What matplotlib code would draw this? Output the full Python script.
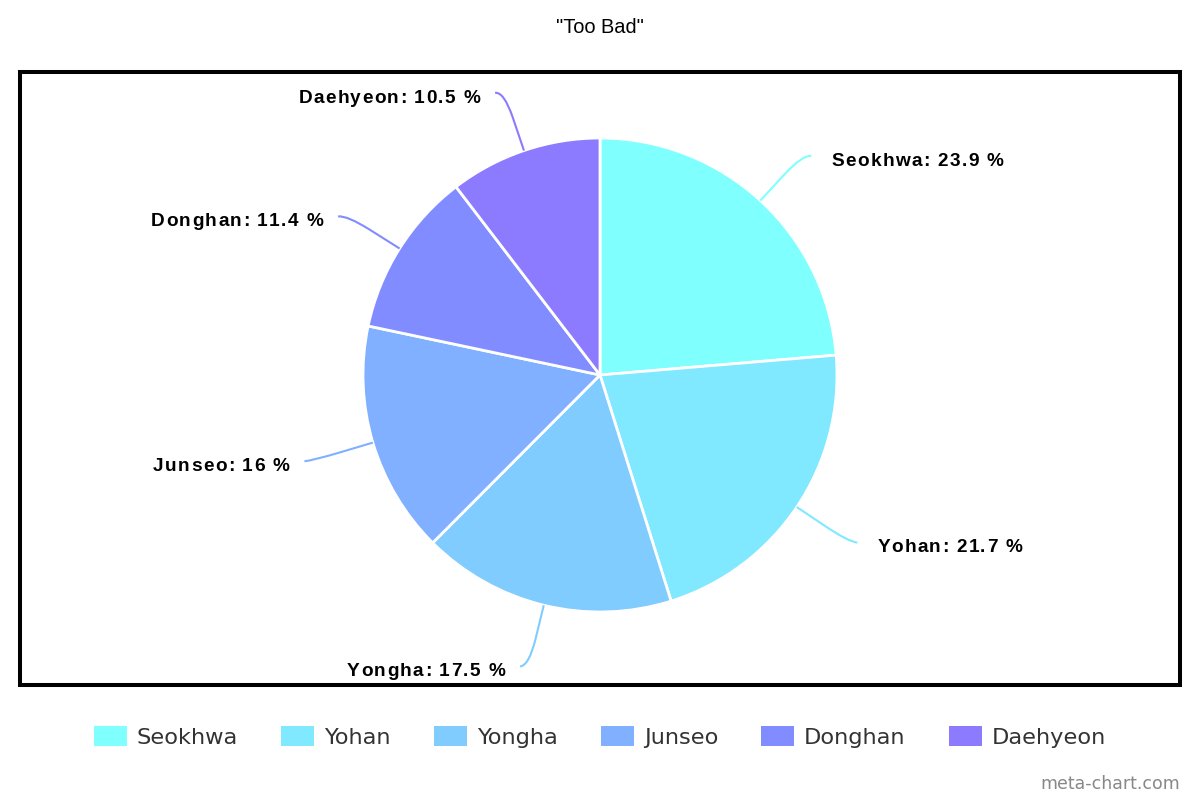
import numpy as np
import matplotlib
matplotlib.use("Agg")
import matplotlib.pyplot as plt
from matplotlib.patches import Rectangle, Patch, PathPatch
from matplotlib.path import Path
from matplotlib.font_manager import FontProperties, findfont, get_font
from matplotlib.ft2font import LoadFlags

# ---- data ----
labels = ["Seokhwa", "Yohan", "Yongha", "Junseo", "Donghan", "Daehyeon"]
values = [23.9, 21.7, 17.5, 16, 11.4, 10.5]
value_text = ["23.9", "21.7", "17.5", "16", "11.4", "10.5"]
colors = ["#80FFFF", "#80E8FF", "#80CCFF", "#80B0FF", "#808CFF", "#8C7AFF"]
title = '"Too Bad"'

W, H = 1200, 800
DPI = 100
fig = plt.figure(figsize=(12, 8), dpi=DPI)
ax = fig.add_axes([0, 0, 1, 1])

def py(y):  # pixel-from-top to data y
    return H - y

LABEL_PT = 13.7
SPACING = 1.35  # px of extra letter spacing
lab_prop = FontProperties(family="Liberation Sans", weight="bold", size=LABEL_PT)
_font = get_font(findfont(lab_prop))
_font.set_size(LABEL_PT, DPI)

def advances(s):
    out = []
    for ch in s:
        g = _font.load_char(ord(ch), flags=LoadFlags.NO_HINTING)
        out.append(g.linearHoriAdvance / 65536.0)
    return out

def spaced_text(x, ybase, s, align):
    adv = advances(s)
    total = sum(adv) + SPACING * (len(s) - 1)
    xx = x if align == "left" else x - total
    for ch, a in zip(s, adv):
        if ch != " ":
            ax.text(xx, ybase, ch, ha="left", va="baseline",
                    fontproperties=lab_prop, color="black", zorder=6)
        xx += a + SPACING

cx, cy, R = 600, py(375), 237
ax.pie(values, colors=colors, startangle=90, counterclock=False,
       center=(cx, cy), radius=R,
       wedgeprops=dict(edgecolor="white", linewidth=2))
ax.set_xlim(0, W)
ax.set_ylim(0, H)
ax.set_aspect("equal")
ax.axis("off")

# border
ax.add_patch(Rectangle((20, py(685)), 1160, 685 - 71.5, fill=False,
                       edgecolor="black", linewidth=2.9, zorder=5))

# labels with connectors
total = sum(values)
cum = 0.0
for lab, v, vt, col in zip(labels, values, value_text, colors):
    mid = (cum + v / 2) / total
    cum += v
    ang = np.deg2rad(90 - 360 * mid)
    ux, uy = np.cos(ang), np.sin(ang)
    sgn = 1 if ux >= 0 else -1
    p0 = (cx + R * ux, cy + R * uy)
    b = (cx + 272 * ux, cy + 272 * uy)
    c = (cx + 299 * ux, cy + 299 * uy)
    e = (c[0] + sgn * 9, c[1] - 1)
    path = Path([p0, b, c, e], [Path.MOVETO, Path.LINETO, Path.CURVE3, Path.CURVE3])
    ax.add_patch(PathPatch(path, fill=False, edgecolor=col, linewidth=1.5,
                           zorder=3))
    gap = 20 if sgn > 0 else 15
    spaced_text(e[0] + sgn * gap, e[1] - 9.8, f"{lab}: {vt} %",
                "left" if sgn > 0 else "right")

# title
ax.text(600, py(27.5), title, ha="center", va="center", fontsize=14.4,
        family="Liberation Sans", color="black")

# legend
handles = [Patch(facecolor=c, edgecolor="none") for c in colors]
fig.legend(handles, labels, loc="center", bbox_to_anchor=(0.5, 1 - 737 / H),
           ncol=6, frameon=False, handlelength=1.45,
           handleheight=1.0, handletextpad=0.45, columnspacing=1.93,
           labelcolor="#333333", prop=dict(family="DejaVu Sans", size=16.2))

# watermark
ax.text(1180, py(784), "meta-chart.com", ha="right", va="center",
        fontsize=12.5, family="DejaVu Sans", color="#888888")

fig.savefig("out.png", dpi=DPI)
